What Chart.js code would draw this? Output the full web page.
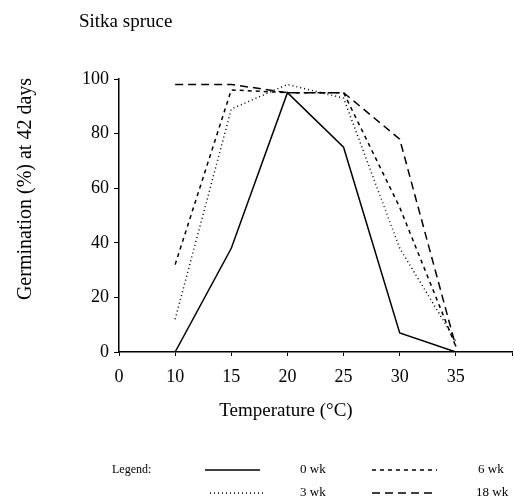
<!DOCTYPE html>
<html>
<head>
<meta charset="utf-8">
<script src="https://cdn.jsdelivr.net/npm/chart.js@4"></script>
<style>
  html, body { margin: 0; padding: 0; background: #fff; }
  #wrap { width: 514px; height: 502px; position: relative; }
</style>
</head>
<body>
<div id="wrap"><canvas id="chart"></canvas></div>
<script>
// Temperature categories (deg C) - last slot is the empty end of the axis
const temps = ['0', '10', '15', '20', '25', '30', '35', ''];
const yTicks = [0, 20, 40, 60, 80, 100];

// Germination (%) at 42 days, by stratification length
const wk0  = [null, 0, 38, 95, 75, 7, 0, null];
const wk3  = [null, 12, 89, 98, 93, 38, 4, null];
const wk6  = [null, 32, 96, 95, 95, 53, 2, null];
const wk18 = [null, 98, 98, 95, 95, 78, 2, null];

const serif = '"Liberation Serif", "DejaVu Serif", serif';

const series = [
  { label: '0 wk', data: wk0, dash: [] },
  { label: '3 wk', data: wk3, dash: [1, 3] },
  { label: '6 wk', data: wk6, dash: [4, 4] },
  { label: '18 wk', data: wk18, dash: [8, 5] }
];

// Draws title, axis titles and the legend at the bottom
const extras = {
  id: 'extras',
  afterDraw(chart) {
    const ctx = chart.ctx;
    ctx.save();
    ctx.fillStyle = '#000';
    ctx.textBaseline = 'middle';

    ctx.font = '19px ' + serif;
    ctx.textAlign = 'left';
    ctx.fillText('Sitka spruce', 79, 22);

    ctx.textAlign = 'center';
    ctx.fillText('Temperature (\u00B0C)', 286, 411);

    ctx.save();
    ctx.translate(26, 189);
    ctx.rotate(-Math.PI / 2);
    ctx.font = '20px ' + serif;
    ctx.fillText('Germination (%) at 42 days', 0, 0);
    ctx.restore();

    // legend
    ctx.textAlign = 'left';
    ctx.font = '12px ' + serif;
    ctx.fillText('Legend:', 112, 470);

    const slots = [
      { ds: 0, x1: 205, x2: 260, tx: 300, y: 470 },
      { ds: 2, x1: 372, x2: 437, tx: 478, y: 470 },
      { ds: 1, x1: 210, x2: 265, tx: 300, y: 493 },
      { ds: 3, x1: 372, x2: 432, tx: 476, y: 493 }
    ];
    ctx.font = '13px ' + serif;
    slots.forEach(s => {
      const d = chart.data.datasets[s.ds];
      ctx.beginPath();
      ctx.setLineDash(d.borderDash);
      ctx.lineWidth = 1.5;
      ctx.strokeStyle = '#000';
      ctx.moveTo(s.x1, s.y);
      ctx.lineTo(s.x2, s.y);
      ctx.stroke();
      ctx.setLineDash([]);
      ctx.fillText(d.label, s.tx, s.y);
    });
    ctx.restore();
  }
};

new Chart(document.getElementById('chart'), {
  type: 'line',
  data: {
    labels: temps,
    datasets: series.map(s => ({
      label: s.label,
      data: s.data,
      borderColor: '#000',
      backgroundColor: '#000',
      borderWidth: 1.5,
      borderDash: s.dash,
      pointRadius: 0,
      pointHoverRadius: 0,
      tension: 0,
      fill: false
    }))
  },
  options: {
    responsive: true,
    maintainAspectRatio: false,
    animation: false,
    layout: { autoPadding: false, padding: { top: 79, left: 0, right: 2, bottom: 60 } },
    plugins: {
      legend: { display: false },
      title: { display: false },
      tooltip: { enabled: false }
    },
    scales: {
      x: {
        type: 'category',
        offset: false,
        afterFit: s => { s.height = 90; s.paddingLeft = 0; s.paddingRight = 0; },
        border: { color: '#000', width: 1.5 },
        grid: { drawOnChartArea: false, drawTicks: true, tickLength: 4, color: '#000' },
        ticks: {
          color: '#000',
          font: { family: serif, size: 18 },
          padding: 10,
          maxRotation: 0,
          autoSkip: false
        }
      },
      y: {
        min: 0,
        max: 100,
        afterFit: s => { s.width = 119; s.paddingTop = 0; s.paddingBottom = 0; },
        afterBuildTicks: s => { s.ticks = yTicks.map(v => ({ value: v })); },
        border: { color: '#000', width: 1.5 },
        grid: { drawOnChartArea: false, drawTicks: true, tickLength: 5, color: '#000' },
        ticks: {
          color: '#000',
          font: { family: serif, size: 18 },
          padding: 5
        }
      }
    }
  },
  plugins: [extras]
});
</script>
</body>
</html>
